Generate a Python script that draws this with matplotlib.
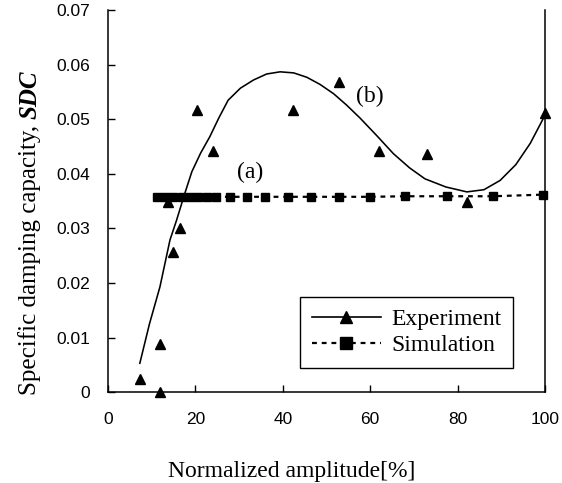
import matplotlib
matplotlib.use("Agg")
import matplotlib.pyplot as plt

# experiment points (triangles)
exp_x = [7.3, 12.0, 12.0, 13.8, 14.8, 16.6, 20.3, 24.1, 42.3, 52.8, 61.9, 72.9, 82.1, 100.0]
exp_y = [0.0025, 0.0, 0.0088, 0.0349, 0.0257, 0.0300, 0.0517, 0.0442, 0.0517, 0.0569,
         0.0442, 0.0437, 0.0349, 0.0511]
# trend curve
curve_x = [7.3, 9.5, 11.9, 14.2, 15.7, 17.5, 19.2, 21.2, 23.3, 25.4, 27.5, 30.3, 33.3,
           36.3, 39.4, 42.5, 45.5, 48.5, 51.6, 54.6, 57.7, 61.5, 65.3, 69.0, 72.5,
           77.3, 82.1, 86.0, 89.7, 93.3, 96.6, 100.0]
curve_y = [0.0053, 0.0125, 0.0193, 0.0279, 0.0315, 0.0362, 0.0404, 0.0438, 0.0468,
           0.0503, 0.0535, 0.0557, 0.0572, 0.0583, 0.0587, 0.0585, 0.0577, 0.0564,
           0.0547, 0.0526, 0.0502, 0.0470, 0.0437, 0.0411, 0.0391, 0.0376, 0.0367,
           0.0371, 0.0388, 0.0417, 0.0456, 0.0508]
# simulation points (squares)
sim_x = [11.2, 13.0, 14.9, 16.9, 18.8, 20.7, 22.7, 24.7, 27.9, 31.8, 35.9, 41.2,
         46.5, 52.9, 60.0, 68.0, 77.6, 88.1, 99.5]
sim_y = [0.0358, 0.0358, 0.0358, 0.0358, 0.0358, 0.0358, 0.0358, 0.0358, 0.0358, 0.0358,
         0.0358, 0.0358, 0.0358, 0.0358, 0.0358, 0.0359, 0.0359, 0.0359, 0.0362]

SERIF = "Liberation Serif"
SANS = "Liberation Sans"
plt.rcParams["lines.scale_dashes"] = False

fig = plt.figure(figsize=(5.62, 4.83), dpi=100)
ax = fig.add_axes([0.192, 0.188, 0.778, 0.791])

ax.plot(curve_x, curve_y, color="black", lw=1.15)
ax.plot(exp_x, exp_y, ls="none", marker="^", ms=7.5, color="black", clip_on=False, zorder=4)
ax.plot(sim_x, sim_y, ls=(0, (3.5, 3.5)), lw=1.6, marker="s", ms=5.3, color="black",
        clip_on=False, zorder=3)

# legend proxies
h1, = ax.plot([], [], color="black", lw=1.2, marker="^", ms=9)
h2, = ax.plot([], [], color="black", lw=1.6, ls=(0, (3.5, 3.5)), marker="s", ms=8)
leg = ax.legend([h1, h2], ["Experiment", "Simulation"], loc="lower right",
                bbox_to_anchor=(0.927, 0.063), prop={"family": SERIF, "size": 17},
                fancybox=False, edgecolor="black", framealpha=1, handlelength=2.9,
                borderpad=0.5, labelspacing=0.2, handletextpad=0.45, borderaxespad=0)
leg.get_frame().set_linewidth(1.0)

ax.text(32.5, 0.0403, "(a)", family=SERIF, fontsize=17, ha="center", va="center")
ax.text(60.0, 0.0541, "(b)", family=SERIF, fontsize=17, ha="center", va="center")

ax.set_xlim(0, 100)
ax.set_ylim(0, 0.07)
ax.set_xticks([0, 20, 40, 60, 80, 100])
ax.set_yticks([0, 0.01, 0.02, 0.03, 0.04, 0.05, 0.06, 0.07])
ax.set_yticklabels(["0", "0.01", "0.02", "0.03", "0.04", "0.05", "0.06", "0.07"])
ax.tick_params(direction="in", length=5, width=1, labelsize=12.5)
ax.tick_params(axis="x", pad=14)
ax.tick_params(axis="y", pad=13)
for lab in ax.get_xticklabels() + ax.get_yticklabels():
    lab.set_family(SANS)
ax.spines["top"].set_visible(False)
for s in ["left", "bottom", "right"]:
    ax.spines[s].set_linewidth(1.1)

ax.set_xlabel("Normalized amplitude[%]", family=SERIF, fontsize=17)
ax.xaxis.set_label_coords(0.42, -0.18)

# y label: plain part, then bold italic SDC on top of it
t1 = fig.text(0.053, 0.182, "Specific damping capacity,", family=SERIF, fontsize=18,
              rotation=90, ha="center", va="bottom")
fig.canvas.draw()
bb = t1.get_window_extent(fig.canvas.get_renderer())
fig.text(0.053, (bb.y1 + 6) / fig.bbox.height, "SDC", family=SERIF, fontsize=18,
         weight="bold", style="italic", rotation=90, ha="center", va="bottom")

fig.savefig("out.png", dpi=100)
